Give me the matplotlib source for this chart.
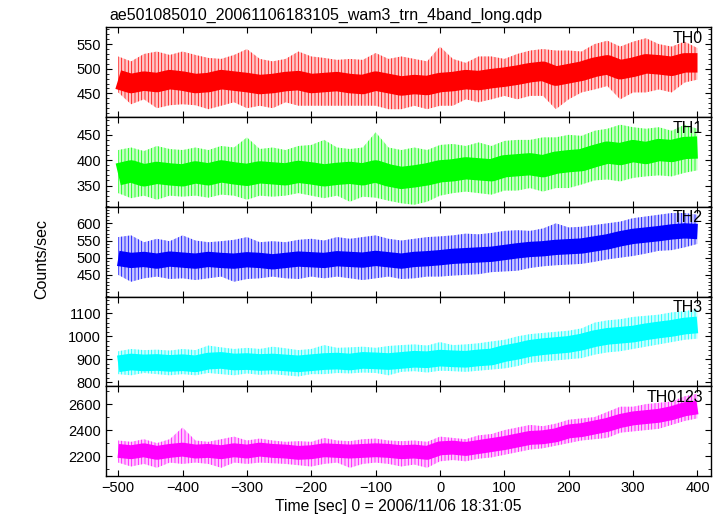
import numpy as np
import matplotlib
matplotlib.use("Agg")
import matplotlib.pyplot as plt
from matplotlib.ticker import MultipleLocator, FixedLocator

plt.rcParams['font.family'] = ['Liberation Sans', 'DejaVu Sans']
plt.rcParams['hatch.linewidth'] = 0.55

# time grid of the readings (sec), 20 s steps from -500 to 400
time = np.arange(-500, 401, 20)

# TH0
th0_level = [478, 470, 475, 472, 478, 475, 470, 472, 478, 475, 472, 468, 470, 474, 476, 470,
             472, 474, 470, 468, 475, 470, 465, 468, 466, 472, 474, 478, 476, 480, 483, 487,
             492, 495, 485, 490, 495, 503, 508, 498, 503, 510, 508, 505, 512, 512]
th0_hi = [525, 515, 530, 535, 528, 535, 528, 522, 520, 528, 540, 520, 515, 520, 535, 525,
          522, 518, 520, 518, 532, 520, 525, 520, 515, 545, 520, 512, 525, 525, 520, 530,
          537, 540, 537, 537, 535, 550, 557, 545, 555, 562, 550, 545, 555, 542]
th0_lo = [452, 428, 438, 420, 426, 428, 426, 418, 425, 432, 420, 425, 420, 432, 425, 425,
          425, 425, 425, 425, 425, 418, 418, 425, 418, 425, 425, 438, 432, 438, 445, 438,
          445, 445, 418, 438, 452, 458, 465, 438, 452, 452, 458, 452, 472, 478]

# TH1
th1_level = [372, 378, 370, 375, 372, 370, 376, 372, 378, 374, 371, 376, 374, 372, 377, 374,
             370, 373, 375, 372, 378, 370, 365, 368, 372, 378, 380, 384, 382, 380, 388, 390,
             392, 388, 395, 398, 400, 408, 415, 412, 418, 414, 420, 418, 424, 425]
th1_hi = [420, 425, 418, 428, 422, 420, 425, 420, 428, 425, 445, 422, 425, 420, 428, 430,
          440, 425, 422, 425, 455, 425, 420, 425, 420, 430, 432, 428, 435, 428, 438, 440,
          440, 445, 445, 450, 448, 458, 462, 470, 465, 462, 465, 458, 470, 462]
th1_lo = [335, 325, 330, 322, 330, 328, 330, 326, 332, 330, 322, 330, 328, 330, 335, 330,
          325, 330, 318, 328, 326, 320, 315, 312, 318, 330, 335, 338, 335, 332, 340, 340,
          345, 338, 345, 345, 352, 360, 362, 358, 365, 368, 370, 368, 375, 380]

# TH2
th2_level = [498, 492, 495, 490, 496, 493, 490, 495, 492, 490, 494, 492, 488, 492, 496, 494,
             492, 497, 495, 493, 498, 494, 490, 495, 497, 500, 504, 506, 508, 510, 515, 520,
             524, 526, 530, 532, 534, 540, 546, 555, 562, 566, 570, 575, 578, 576]
th2_hi = [560, 565, 545, 555, 548, 565, 550, 545, 548, 552, 560, 545, 548, 545, 552, 555,
          550, 560, 555, 560, 565, 555, 550, 555, 560, 562, 565, 570, 568, 572, 578, 580,
          578, 585, 600, 588, 590, 595, 600, 605, 615, 620, 625, 630, 630, 625]
th2_lo = [450, 430, 440, 445, 438, 440, 435, 440, 445, 430, 438, 440, 445, 440, 438, 445,
          440, 445, 440, 435, 440, 445, 438, 440, 445, 445, 448, 450, 452, 458, 460, 462,
          470, 475, 478, 480, 482, 488, 495, 500, 505, 512, 520, 522, 530, 540]

# TH3
th3_level = [880, 888, 884, 886, 882, 885, 880, 892, 895, 888, 890, 886, 888, 884, 880, 885,
             890, 892, 888, 895, 893, 890, 895, 900, 898, 905, 902, 900, 906, 910, 925, 935,
             948, 955, 960, 965, 975, 990, 1000, 1005, 1010, 1020, 1028, 1035, 1045, 1050]
th3_hi = [935, 945, 940, 942, 938, 945, 940, 960, 952, 945, 950, 945, 955, 948, 940, 945,
          962, 950, 952, 955, 950, 958, 962, 965, 960, 975, 962, 965, 970, 978, 985, 1000,
          1010, 1015, 1020, 1025, 1035, 1060, 1070, 1075, 1085, 1090, 1095, 1105, 1110, 1120]
th3_lo = [835, 830, 840, 835, 830, 835, 830, 840, 835, 830, 838, 832, 835, 830, 825, 835,
          835, 840, 838, 842, 840, 830, 845, 848, 842, 850, 848, 845, 850, 855, 860, 870,
          885, 890, 895, 900, 905, 920, 930, 935, 945, 955, 965, 975, 985, 990]

# TH0123
th0123_level = [2240, 2230, 2245, 2225, 2240, 2250, 2235, 2240, 2230, 2245, 2235, 2250, 2240,
                2235, 2225, 2230, 2245, 2240, 2235, 2240, 2245, 2240, 2230, 2235, 2225, 2260,
                2265, 2255, 2270, 2285, 2300, 2320, 2340, 2345, 2360, 2390, 2400, 2420, 2440,
                2470, 2490, 2500, 2510, 2530, 2560, 2575]
th0123_hi = [2320, 2310, 2330, 2300, 2330, 2420, 2320, 2310, 2330, 2350, 2320, 2335, 2320,
             2310, 2315, 2310, 2340, 2320, 2315, 2330, 2335, 2320, 2315, 2320, 2310, 2350,
             2340, 2330, 2360, 2370, 2400, 2420, 2440, 2430, 2450, 2480, 2490, 2500, 2540,
             2580, 2580, 2600, 2610, 2620, 2660, 2680]
th0123_lo = [2150, 2120, 2140, 2110, 2150, 2140, 2150, 2140, 2110, 2150, 2140, 2150, 2145,
             2140, 2130, 2120, 2140, 2150, 2110, 2140, 2150, 2140, 2120, 2135, 2110, 2160,
             2170, 2160, 2180, 2190, 2210, 2230, 2250, 2260, 2280, 2300, 2320, 2330, 2340,
             2380, 2390, 2400, 2410, 2440, 2470, 2490]

bands = ["TH0", "TH1", "TH2", "TH3", "TH0123"]
levels = [th0_level, th1_level, th2_level, th3_level, th0123_level]
his = [th0_hi, th1_hi, th2_hi, th3_hi, th0123_hi]
los = [th0_lo, th1_lo, th2_lo, th3_lo, th0123_lo]

# labelled y ticks of each panel
yticks = [[450, 500, 550], [350, 400, 450], [450, 500, 550, 600],
          [800, 900, 1000, 1100], [2200, 2400, 2600]]

colors = ["#ff0000", "#00ff00", "#0000ff", "#00ffff", "#ff00ff"]
ylims = [(402, 584), (308, 485), (387, 648), (782, 1174), (2047, 2737)]
minor = [10, 10, 10, 20, 100]
core_lw = [14, 16, 11, 12, 10]

fig, axes = plt.subplots(5, 1, figsize=(7.24, 5.16), dpi=100, sharex=True)
fig.subplots_adjust(left=0.1464, right=0.982, top=0.947, bottom=0.0775, hspace=0)

for i, ax in enumerate(axes):
    # spread of the light curve: light fill plus thin vertical strokes
    ax.fill_between(time, los[i], his[i], facecolor=colors[i], alpha=0.22, lw=0)
    ax.fill_between(time, los[i], his[i], facecolor='none', edgecolor=colors[i],
                    hatch='|||||', lw=0)
    # dense core of the light curve
    ax.plot(time, levels[i], color=colors[i], lw=core_lw[i], solid_capstyle='butt',
            solid_joinstyle='round')
    ax.set_xlim(-519, 421)
    ax.set_ylim(*ylims[i])
    ax.yaxis.set_major_locator(FixedLocator(yticks[i]))
    ax.yaxis.set_minor_locator(MultipleLocator(minor[i]))
    ax.xaxis.set_major_locator(MultipleLocator(100))
    ax.tick_params(which='both', direction='in', top=True, right=True, labelsize=10.5)
    ax.tick_params(which='major', length=4.5, width=0.8)
    ax.tick_params(which='minor', length=2.5, width=0.6)
    for s in ax.spines.values():
        s.set_linewidth(1.0)
    ax.text(0.987, 0.96, bands[i], transform=ax.transAxes, ha='right', va='top',
            fontsize=11.5)

axes[-1].set_xlabel("Time [sec] 0 = 2006/11/06 18:31:05", fontsize=11.3)
axes[-1].xaxis.set_label_coords(0.4826, -0.26)
axes[-1].xaxis.label.set_va('top')
fig.text(0.057, 0.499, "Counts/sec", rotation=90, ha='center', va='center', fontsize=11.5)
fig.text(0.151, 0.961, "ae501085010_20061106183105_wam3_trn_4band_long.qdp",
         ha='left', va='baseline', fontsize=11.5)

fig.savefig("out.png", dpi=100)
